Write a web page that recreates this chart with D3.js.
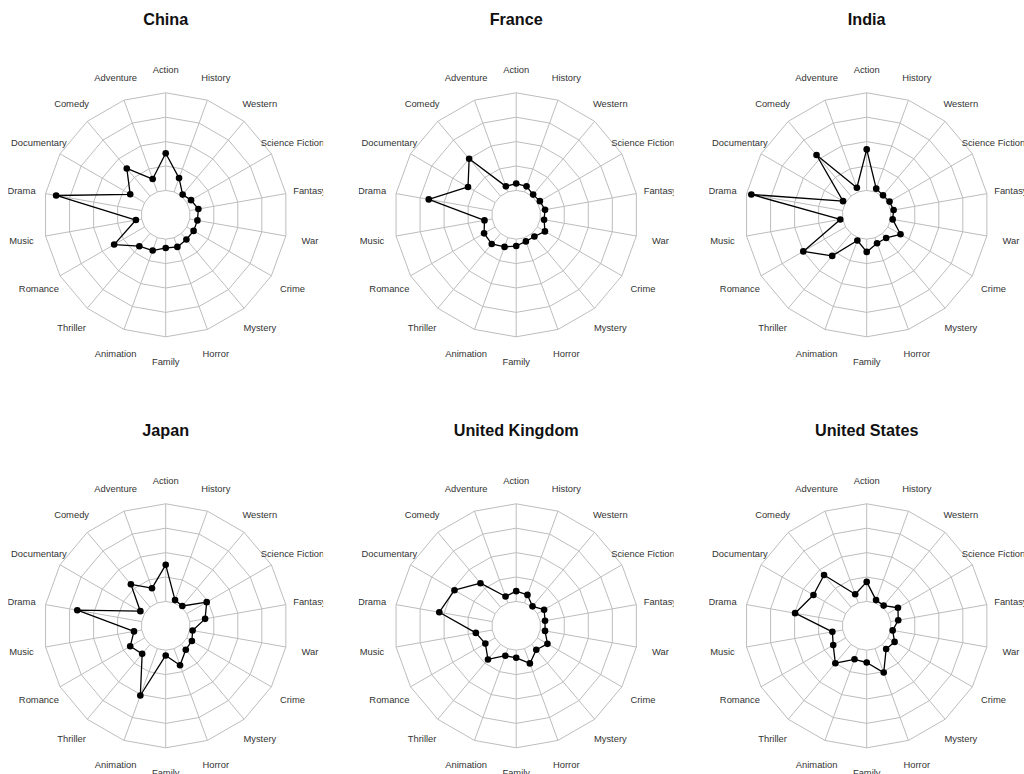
<!DOCTYPE html>
<html>
<head>
<meta charset="utf-8">
<script src="https://cdn.jsdelivr.net/npm/d3@7"></script>
<style>
  html, body { margin: 0; padding: 0; background: #fff; }
  svg { display: block; }
</style>
</head>
<body>
<svg id="chart" width="1024" height="774"></svg>
<script>
// Genre axes, clockwise from the top
const genres = ["Action", "History", "Western", "Science Fiction", "Fantasy", "War",
  "Crime", "Mystery", "Horror", "Family", "Animation", "Thriller", "Romance",
  "Music", "Drama", "Documentary", "Comedy", "Adventure"];

const countries = ["China", "France", "India", "Japan", "United Kingdom", "United States"];

// Relative genre share per country (0 = centre ring, 1 = outer ring)
const china  = [0.38, 0.15, 0.02, 0.05, 0.09, 0.08, 0.08, 0.08, 0.10, 0.09, 0.14, 0.17, 0.36, 0.06, 0.89, 0.17, 0.37, 0.14];
const france = [0.07, 0.06, 0.02, 0.03, 0.05, 0.04, 0.09, 0.04, 0.04, 0.07, 0.10, 0.14, 0.13, 0.08, 0.66, 0.32, 0.50, 0.06];
const india  = [0.42, 0.035, 0.01, 0.02, 0.03, 0.02, 0.15, 0.06, 0.06, 0.13, 0.03, 0.30, 0.50, 0.025, 0.95, 0.03, 0.55, 0.045];
const japan  = [0.375, 0.03, 0.015, 0.235, 0.16, 0.03, 0.06, 0.07, 0.18, 0.054, 0.51, 0.125, 0.17, 0.08, 0.67, 0.05, 0.305, 0.16];
const uk     = [0.105, 0.087, 0.01, 0.08, 0.05, 0.05, 0.12, 0.07, 0.16, 0.078, 0.076, 0.20, 0.115, 0.17, 0.55, 0.48, 0.32, 0.07];
const us     = [0.20, 0.03, 0.02, 0.12, 0.078, 0.02, 0.08, 0.06, 0.26, 0.126, 0.115, 0.25, 0.146, 0.107, 0.495, 0.38, 0.43, 0.094];

const seriesList = [china, france, india, japan, uk, us];

// Grid levels between the centre ring and the outer ring
const gridLevels = [0, 0.25, 0.5, 0.75, 1];

const svg = d3.select("#chart");
const R = 122;              // outer ring radius
const labelFactor = 1.2;    // axis labels sit at 1.2 x outer radius
const colStep = 350.5, rowStep = 411;
const x0 = 165.7, y0 = 214.8;
const clipHalf = 157.5;

const angle = d3.scaleLinear().domain([0, genres.length]).range([0, 2 * Math.PI]);
const radius = d3.scaleLinear().domain([0, 1]).range([0.2 * R, R]);

const radial = d3.lineRadial()
  .angle((d, i) => angle(i))
  .radius(d => radius(d))
  .curve(d3.curveLinearClosed);

countries.forEach((name, k) => {
  const col = k % 3, row = Math.floor(k / 3);
  const cx = x0 + col * colStep, cy = y0 + row * rowStep;
  const values = seriesList[k];

  const clipId = "clip" + k;
  svg.append("clipPath").attr("id", clipId)
    .append("rect")
    .attr("x", cx - clipHalf).attr("y", row * 387)
    .attr("width", clipHalf * 2).attr("height", 387);

  // title
  svg.append("text")
    .attr("x", cx).attr("y", 25 + row * rowStep)
    .attr("text-anchor", "middle")
    .style("font-family", "'Liberation Sans', Arial, sans-serif")
    .style("font-weight", "bold")
    .style("font-size", "16.2px")
    .attr("fill", "#111")
    .text(name);

  const g = svg.append("g")
    .attr("clip-path", `url(#${clipId})`)
    .append("g")
    .attr("transform", `translate(${cx},${cy})`);

  // polygon grid rings
  g.selectAll("path.ring").data(gridLevels).join("path")
    .attr("class", "ring")
    .attr("d", lv => radial(genres.map(() => lv)))
    .attr("fill", "none")
    .attr("stroke", "#bdbdbd")
    .attr("stroke-width", 1);

  // spokes
  g.selectAll("line.spoke").data(genres).join("line")
    .attr("class", "spoke")
    .attr("x1", (d, i) => radius(0) * Math.sin(angle(i)))
    .attr("y1", (d, i) => -radius(0) * Math.cos(angle(i)))
    .attr("x2", (d, i) => radius(1) * Math.sin(angle(i)))
    .attr("y2", (d, i) => -radius(1) * Math.cos(angle(i)))
    .attr("stroke", "#bdbdbd")
    .attr("stroke-width", 1);

  // axis labels
  g.selectAll("text.axis").data(genres).join("text")
    .attr("class", "axis")
    .attr("x", (d, i) => labelFactor * R * Math.sin(angle(i)))
    .attr("y", (d, i) => -labelFactor * R * Math.cos(angle(i)))
    .attr("dy", "0.45em")
    .attr("text-anchor", "middle")
    .style("font-family", "'Liberation Sans', Arial, sans-serif")
    .style("font-size", "9.4px")
    .attr("fill", "#333")
    .text(d => d);

  // data polygon
  g.append("path")
    .attr("d", radial(values))
    .attr("fill", "none")
    .attr("stroke", "#000")
    .attr("stroke-width", 1.3)
    .attr("stroke-linejoin", "round");

  // data points
  g.selectAll("circle.pt").data(values).join("circle")
    .attr("class", "pt")
    .attr("cx", (d, i) => radius(d) * Math.sin(angle(i)))
    .attr("cy", (d, i) => -radius(d) * Math.cos(angle(i)))
    .attr("r", 3.3)
    .attr("fill", "#000");
});
</script>
</body>
</html>
